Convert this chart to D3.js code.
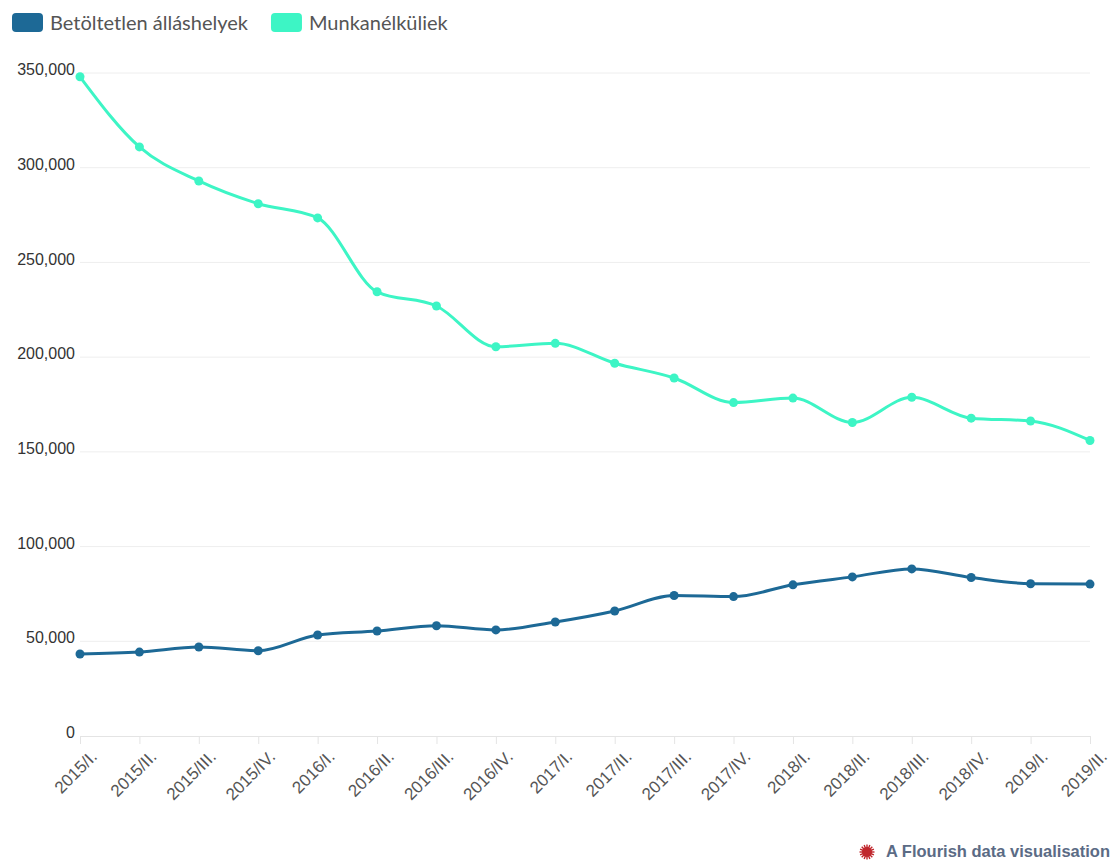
<!DOCTYPE html>
<html>
<head>
<meta charset="utf-8">
<script src="https://cdn.jsdelivr.net/npm/d3@7"></script>
<style>
  body { margin: 0; background: #fff; }
  svg { display: block; font-family: Lato, "Noto Sans", sans-serif; }
</style>
</head>
<body>
<svg id="chart" width="1113" height="861"></svg>
<script>
// quarters on the x axis
const quarters = ['2015/I.', '2015/II.', '2015/III.', '2015/IV.',
  '2016/I.', '2016/II.', '2016/III.', '2016/IV.',
  '2017/I.', '2017/II.', '2017/III.', '2017/IV.',
  '2018/I.', '2018/II.', '2018/III.', '2018/IV.',
  '2019/I.', '2019/II.'];

// Betöltetlen álláshelyek
const vacancies = [43300, 44300, 47000, 45000, 53300, 55400, 58200, 56000,
  60200, 66000, 74200, 73600, 79800, 84000, 88200, 83700, 80400, 80200];

// Munkanélküliek
const unemployed = [348000, 311000, 293000, 281000, 273500, 234500, 227000, 205500,
  207300, 196800, 189000, 176000, 178400, 165500, 178800, 167800, 166300, 156000];

const yTicks = [0, 50000, 100000, 150000, 200000, 250000, 300000, 350000];

const series = [
  { name: 'Betöltetlen álláshelyek', values: vacancies, color: '#1d6996' },
  { name: 'Munkanélküliek', values: unemployed, color: '#3df5c5' }
];

const svg = d3.select('#chart');
const margin = { top: 73, left: 80, right: 23, bottom: 125 };
const width = 1113 - margin.left - margin.right;
const height = 861 - margin.top - margin.bottom;

const x = d3.scalePoint().domain(quarters).range([0, width]);
const y = d3.scaleLinear().domain([0, 350000]).range([height, 0]);

const g = svg.append('g').attr('transform', `translate(${margin.left},${margin.top})`);

// gridlines
g.append('g')
  .selectAll('line')
  .data(yTicks.slice(1))
  .join('line')
  .attr('x1', 0).attr('x2', width)
  .attr('y1', d => y(d)).attr('y2', d => y(d))
  .attr('stroke', '#eeeeee');

// y axis
const yAxis = g.append('g')
  .call(d3.axisLeft(y).tickValues(yTicks).tickSize(0).tickPadding(5).tickFormat(d3.format(',')));
yAxis.select('.domain').remove();
yAxis.selectAll('text').attr('fill', '#333').style('font-size', '16px').attr('dy', '0.1em');

// x axis
const xAxis = g.append('g')
  .attr('transform', `translate(0,${height})`)
  .call(d3.axisBottom(x).tickSize(8).tickPadding(0));
xAxis.select('.domain').attr('stroke', '#e4e4e4');
xAxis.selectAll('.tick line').attr('stroke', '#e4e4e4');
xAxis.selectAll('text')
  .attr('fill', '#555')
  .style('font-size', '17px')
  .attr('text-anchor', 'end')
  .attr('dy', 0)
  .attr('transform', 'translate(12,16) rotate(-45)');

const line = d3.line()
  .x((d, i) => x(quarters[i]))
  .y(d => y(d))
  .curve(d3.curveMonotoneX);

series.forEach(s => {
  g.append('path')
    .datum(s.values)
    .attr('fill', 'none')
    .attr('stroke', s.color)
    .attr('stroke-width', 3)
    .attr('d', line);
  g.append('g')
    .selectAll('circle')
    .data(s.values)
    .join('circle')
    .attr('cx', (d, i) => x(quarters[i]))
    .attr('cy', d => y(d))
    .attr('r', 4.5)
    .attr('fill', s.color);
});

// legend
const legend = svg.append('g').attr('transform', 'translate(12,13)');
let lx = 0;
series.forEach(s => {
  const item = legend.append('g').attr('transform', `translate(${lx},0)`);
  item.append('rect')
    .attr('width', 31).attr('height', 19).attr('rx', 4)
    .attr('fill', s.color);
  const t = item.append('text')
    .attr('x', 38).attr('y', 17)
    .attr('fill', '#555')
    .style('font-size', '20px')
    .text(s.name);
  lx += 38 + t.node().getComputedTextLength() + 23;
});

// footer
const foot = svg.append('g').attr('transform', 'translate(1110,851)');
foot.append('text')
  .attr('text-anchor', 'end')
  .attr('y', 6)
  .attr('fill', '#5b6b85')
  .style('font-family', '"Liberation Sans", Arial, sans-serif')
  .style('font-weight', 'bold')
  .style('font-size', '16.5px')
  .text('A Flourish data visualisation');
const star = foot.append('g').attr('transform', 'translate(-243,1)');
d3.range(16).forEach(i => {
  const a = i * Math.PI / 8;
  star.append('line')
    .attr('x1', 0).attr('y1', 0)
    .attr('x2', Math.cos(a) * 7.5).attr('y2', Math.sin(a) * 7.5)
    .attr('stroke', '#c0272d').attr('stroke-width', 1.4);
});
star.append('circle').attr('r', 5).attr('fill', '#c0272d');
</script>
</body>
</html>
